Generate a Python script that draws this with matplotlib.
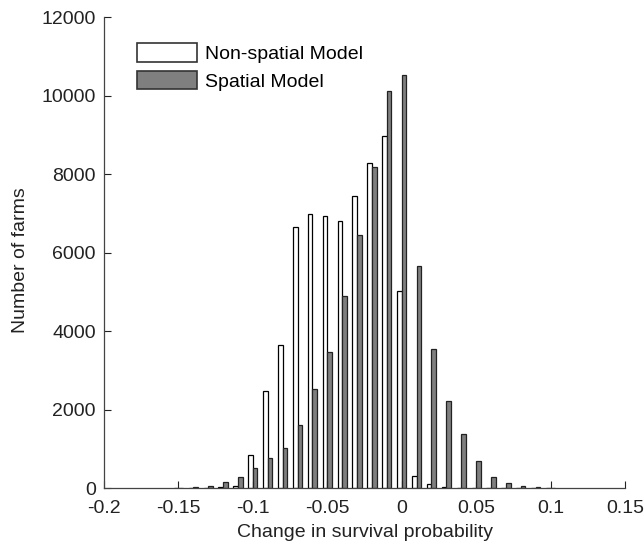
import matplotlib
matplotlib.use("Agg")
import matplotlib.pyplot as plt
import numpy as np
from matplotlib.patches import Patch

plt.rcParams['font.family'] = ['Liberation Sans', 'DejaVu Sans']

bins = [-0.15, -0.14, -0.13, -0.12, -0.11, -0.10, -0.09, -0.08, -0.07, -0.06,
        -0.05, -0.04, -0.03, -0.02, -0.01, 0.0, 0.01, 0.02, 0.03, 0.04,
        0.05, 0.06, 0.07, 0.08, 0.09, 0.10]
nonspatial = [0, 0, 5, 20, 60, 830, 2480, 3640, 6660, 6980,
              6930, 6800, 7450, 8270, 8980, 5030, 300, 90, 20, 10,
              5, 0, 0, 0, 0, 0]
spatial = [5, 20, 60, 160, 290, 500, 770, 1030, 1600, 2520,
           3470, 4890, 6450, 8190, 10120, 10530, 5650, 3530, 2220, 1370,
           700, 290, 135, 60, 30, 10]
xticks = [-0.2, -0.15, -0.1, -0.05, 0, 0.05, 0.1, 0.15]
xticklabels = ['-0.2', '-0.15', '-0.1', '-0.05', '0', '0.05', '0.1', '0.15']
yticks = [0, 2000, 4000, 6000, 8000, 10000, 12000]

FS = 14
fig = plt.figure(figsize=(6.44, 5.42), dpi=100)
ax = fig.add_axes([0.1615, 0.0996, 0.809, 0.869])

x = np.array(bins)
w = 0.0031
ax.bar(x - w / 2, nonspatial, width=w, color='white', edgecolor='black', linewidth=0.9)
ax.bar(x + w / 2, spatial, width=w, color='#7f7f7f', edgecolor='#222222', linewidth=0.9)

ax.set_xlim(-0.2, 0.15)
ax.set_ylim(0, 12000)
ax.set_xticks(xticks)
ax.set_xticklabels(xticklabels)
ax.set_yticks(yticks)
ax.tick_params(direction='in', length=5, labelsize=FS, colors='#222222', width=0.8)
ax.tick_params(axis='x', pad=8.5)
ax.tick_params(axis='y', pad=6)
for s in ['top', 'right']:
    ax.spines[s].set_visible(False)
for s in ['left', 'bottom']:
    ax.spines[s].set_color('#444444')
    ax.spines[s].set_linewidth(0.9)

ax.set_xlabel('Change in survival probability', fontsize=FS, color='#222222', labelpad=5)
ax.set_ylabel('Number of farms', fontsize=FS, color='#222222')
ax.yaxis.set_label_coords(-0.144, 0.484)

handles = [Patch(facecolor='white', edgecolor='#333333', linewidth=1.2, label='Non-spatial Model'),
           Patch(facecolor='#7f7f7f', edgecolor='#333333', linewidth=1.2, label='Spatial Model')]
ax.legend(handles=handles, loc='upper left', bbox_to_anchor=(0.063, 0.945), frameon=False,
          fontsize=FS, handlelength=3.1, handleheight=1.1, handletextpad=0.4,
          labelspacing=0.4, borderpad=0, borderaxespad=0)

fig.savefig('out.png', dpi=100)
